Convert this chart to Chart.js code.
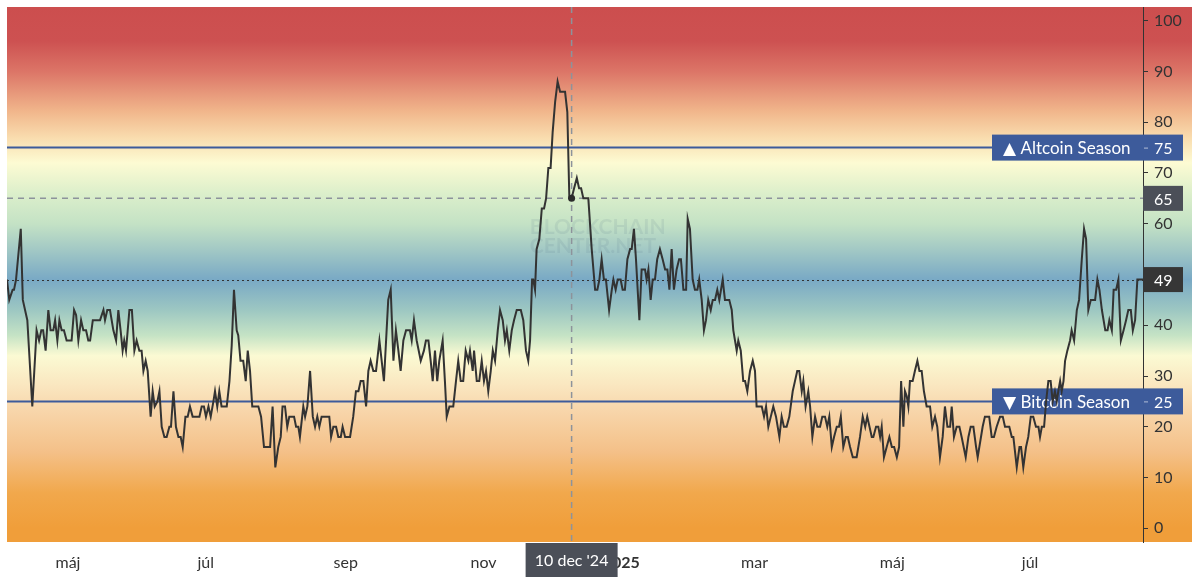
<!DOCTYPE html>
<html><head><meta charset="utf-8">
<script src="https://cdn.jsdelivr.net/npm/chart.js@4/dist/chart.umd.min.js"></script>
<style>html,body{margin:0;padding:0;background:#fff;}#wrap{width:1200px;height:582px;position:relative;}</style>
</head><body><div id="wrap"><canvas id="c" width="1200" height="582"></canvas></div>
<script>
// ---- data (days counted from START) ----
const START = '2024-04-04';
const dayOffsets = [
  0,1,2.5,3.1,4,6.1,7,9,11.2,13.1, 14.2,15.2,16,17.1,18.3,19.3,20.5,21.3,22.3,23.2,
  24.2,25.2,26.4,28.6,29.7,30.6,31.6,32.8,33.8,35, 36,36.8,38,41.2,42.7,43.4,44.4,45.6,47.1,48.3,
  49.3,50.3,51.2,51.9,52.7,54.2,55.3,56.4,57.4,58.6, 59.6,60.4,61.4,62.3,63.6,64.5,65.4,66.6,67.5,68.5,
  69.7,70.7,71.9,72.6,73.7,74.8,75.9,76.9,77.8,79, 80,81,82.2,85.2,86.2,87.2,88.1,89.2,90.2,91.4,
  92.1,93.1,94,95,97.3,98.5,99.5,100.5,101.7,102.4, 103.4,104.6,105.7,106.6,107.6,108.6,111.3,112.5,113.8,116.5,
  117.6,118.8,120.1,121.2,122,123.1,124.1,125,127.1,128, 129,
  129.7,131.2,132,133,134.2,135.4,136.4,137.4,138.3,139.3, 142.7,143.5,144.5,145.7,146.7,147.8,148.6,149.7,151.9,153.3,
  154.5,155.6,156.6,157.8,159,160,161,162.2,163.4,164.9, 165.9,166.9,168.8,169.9,171.1,172.2,173.3,174.3,175.5,176.7,
  178.4,179.2,180.2,181.4,183.2,184.6,185.5,186.6,187.6,188.5, 189.5,190.5,191.4,192.9,193.9,194.7,195.9,197.6,198.8,199.8,
  200.9,202,203.1,204.3,205,206.2,206.8,208,209.1,210.2, 211.2,212.1,213.1,214.2,215.1,216.1,217.3,218.3,219.5,220.5,
  221.3,222.4,223.5,224.5,225.7,227.5,228.6,229.8,230.8,231.6, 232.5,
  233,233.8,234.5,235.7,236.8,237.8,238.7,239.7,240.7,241.6, 242.7,243.8,244.9,247.1,248.1,249,250,251.1,252.3,253.3,
  254.2,255.2,257.4,258.9,
  260.4,261.4,262.3,263.3,264.3,265.2,266.6,267.8,268.5,269.5, 270.4,271.7,272.6,273.6,274.7,275.9,276.6,277.6,278.5,280,
  281,282.5,283.2,284,285,285.9,286.9,287.9,289.1,290.3, 291.4,292.4,293.3,294.3,295.3,296.5,297.6,298.4,299.5,300.7,
  301.4,302.4,303.6,304.6,305.7,306.5,307.6,308.6,309.5,310.5, 311.6,312.5,313.5,314.5,315.4,316.9,317.9,319.8,320.9,321.6,
  323.1,323.8,324.9,326,326.8,327.8,329,330.2,331.2,331.9, 334.2,335.2,336.1,337.1,338.2,339.3,340.5,342,343,344,
  345.2,346.4,347.9,348.9,349.9,350.8,351.9,352.6,353.6,354.8, 355.6,356.6,357.8,358.8,360,361,362.2,363.2,364.1,365.2,
  366.2,367.4,368.4,369.2,370.3,371.4,372.3,373.3,374.5,376.2, 377.7,378.9,380,380.9,382.9,
  383.6,384.8,385.8,386.6,387.3,388.3,389.5,390.7,391.8,392.8, 394,395,395.9,396.9,397.6,398.4,399.1,399.8,401,402,
  403.1,404,405,406,407.2,408.7,409.7,410.9,411.9,413.1, 414.3,415.3,416.4,417.6,418.3,419.3,420.5,421.7,422.7,424.5,
  425.7,426.7,427.9,429.1,429.8,432,433,434.9,436,437, 438.2,439.7,
  440.9,441.9,443.8,444.9,445.6,447.1,448.3,449,450,451.2, 452.2,453.3,454.4,455.6,456.7,457.4,458.2,459.2,460.1,461.1,
  462.1,463,464,464.8,465.5,466.3,467,467.8,468.5,469.5, 470.7,471.4,472.5,473.7,474.7,475.9,476.9,477.8,478.8,479.9,
  481.8,482.8,483.7,484.8,486.3,487.3,488.1,489.2,490,491.1, 492.1,493.2,494.4,495.5,496.5,497.6,498.5,499.5,500.5,503
];
const indexValues = [
  49,45,47,47,49,59,45,41,24,39, 37,39,39,35,43,39,39,41,37,41,
  39,39,37,37,43,42,37,41,39,39, 37,37,41,41,43,41,43,43,39,37,
  43,39,35,37,35,43,43,35,37,35, 35,31,33,31,22,27,24,25,27,20,
  18,18,20,20,27,20,18,18,16,22, 22,24,22,22,24,24,22,24,22,25,
  27,24,27,24,24,29,36,47,39,38, 33,33,29,35,31,24,24,22,16,16,
  24,12,16,18,24,24,20,22,22,20, 20,
  18,24,22,24,31,22,20,22,20,22, 22,18,20,20,18,18,20,18,18,22,
  27,27,29,29,24,31,33,31,31,37, 33,29,45,47,33,39,35,31,37,39,
  39,37,41,37,33,35,37,37,33,29, 35,29,33,37,29,22,24,24,29,33,
  29,29,35,33,35,31,35,29,29,33, 29,31,27,31,35,33,39,43,41,37,
  39,35,39,41,43,43,41,35,33,37, 49,
  49,47,55,57,63,63,65,71,71,78, 84,88,86,86,82,65,65,67,69,67,
  67,65,65,55,
  47,47,49,53,49,49,43,47,49,47, 49,49,47,47,53,55,55,59,53,41,
  51,51,49,51,45,49,49,53,55,53, 51,51,47,55,47,51,53,53,47,47,
  61,59,49,47,47,49,45,39,41,45, 43,45,45,47,45,49,45,45,43,39,
  35,37,35,29,29,27,31,33,31,24, 24,22,24,20,22,24,22,18,22,20,
  20,22,27,29,31,31,27,29,24,27, 24,18,22,20,20,22,22,20,22,16,
  18,20,20,22,16,18,18,16,14,14, 18,22,20,22,18,
  18,20,20,18,20,14,16,18,16,16, 14,16,29,20,27,26,24,29,29,31,
  33,31,31,27,24,24,20,22,20,14, 18,24,20,20,24,18,20,20,18,14,
  18,20,20,16,14,20,22,22,18,18, 20,22,
  22,20,20,18,18,12,16,16,12,16, 18,22,22,20,20,18,20,20,25,29,
  29,25,27,25,27,29,27,29,33,35, 37,39,37,43,45,53,59,57,43,45,
  45,49,47,43,39,39,41,39,47,47, 49,37,39,41,43,43,39,41,49,49
];
const monthTickDates = ['2024-05-01','2024-07-01','2024-09-01','2024-11-01','2025-01-01','2025-03-01','2025-05-01','2025-07-01'];
const monthTickLabels = ['máj','júl','sep','nov','2025','mar','máj','júl'];
const yTickValues = [0,10,20,30,40,50,60,70,80,90,100];
const seasonLevels = [75, 25];
const seasonLabels = ['▲ Altcoin Season', '▼ Bitcoin Season'];
const currentValue = 49;
const hoverDate = '2024-12-10';
const hoverLabel = "10 dec '24";
const watermarkLines = ['BLOCKCHAIN', 'CENTER.NET'];
// background colour scale (index value -> colour)
const bgStopValues = [102.7, 96, 90, 82, 77, 72, 66, 60, 55, 49, 43, 38, 34, 28, 24, 15, 7, 0, -2.7];
const bgStopColors = ['#cc4e4e','#cd5151','#dc7567','#f1b78c','#f9dcae','#fdfbd3','#dcefcb','#c4e2c5','#a3c9c5','#79a9c5','#9dc7c2','#c5e3c5','#fbfad3','#fae6bf','#f8d8ae','#f4c088','#f1a84c','#f09e3a','#f09e3a'];

const Y_MIN = -2.7, Y_MAX = 102.7;
const FONT = "Lato, 'DejaVu Sans', sans-serif";

function dayOf(iso){
  const p = iso.split('-').map(Number);
  const s = START.split('-').map(Number);
  return Math.round((Date.UTC(p[0],p[1]-1,p[2]) - Date.UTC(s[0],s[1]-1,s[2]))/86400000);
}
const monthTickDays = monthTickDates.map(dayOf);
const hoverDay = dayOf(hoverDate);
const hoverIdx = dayOffsets.indexOf(hoverDay);
const hoverValue = indexValues[hoverIdx];
const points = dayOffsets.map((d,i)=>({x:d, y:indexValues[i]}));

const overlay = {
  id:'overlay',
  beforeDraw(chart){
    const {ctx, chartArea:a, scales:{y}} = chart;
    const top = y.getPixelForValue(Y_MAX), bot = y.getPixelForValue(Y_MIN);
    const g = ctx.createLinearGradient(0, top, 0, bot);
    bgStopValues.forEach((v,i)=>{
      g.addColorStop(Math.min(1,Math.max(0,(Y_MAX - v)/(Y_MAX - Y_MIN))), bgStopColors[i]);
    });
    ctx.save();
    ctx.fillStyle = g;
    ctx.fillRect(a.left, a.top, y.right - a.left, a.bottom - a.top);
    ctx.restore();
  },
  beforeDatasetsDraw(chart){
    const {ctx, chartArea:a, scales:{x,y}} = chart;
    ctx.save();
    // watermark
    ctx.font = "bold 21px " + FONT;
    ctx.fillStyle = 'rgba(70,100,130,0.11)';
    ctx.textAlign = 'left'; ctx.textBaseline = 'alphabetic';
    const wx = x.getPixelForValue(231.5);
    ctx.fillText(watermarkLines[0], wx, y.getPixelForValue(57.9));
    ctx.fillText(watermarkLines[1], wx, y.getPixelForValue(54.2));
    // current value dotted line
    const cy = Math.round(y.getPixelForValue(currentValue)) + 0.5;
    ctx.strokeStyle = '#333'; ctx.lineWidth = 1; ctx.setLineDash([2,3]);
    ctx.beginPath(); ctx.moveTo(a.left, cy); ctx.lineTo(a.right, cy); ctx.stroke();
    // crosshair
    const hx = x.getPixelForValue(hoverDay), hy = y.getPixelForValue(hoverValue);
    ctx.strokeStyle = '#8d939b'; ctx.lineWidth = 1.5; ctx.setLineDash([6,5]);
    ctx.beginPath(); ctx.moveTo(a.left, hy); ctx.lineTo(a.right, hy); ctx.stroke();
    ctx.beginPath(); ctx.moveTo(hx, a.top); ctx.lineTo(hx, a.bottom + 4); ctx.stroke();
    ctx.setLineDash([]);
    // season lines and boxes
    seasonLevels.forEach((lv,i)=>{
      const ly = y.getPixelForValue(lv);
      const boxL = a.right - 151, boxR = y.left + 40;
      ctx.strokeStyle = '#3d5b9b'; ctx.lineWidth = 2;
      ctx.beginPath(); ctx.moveTo(a.left, ly); ctx.lineTo(boxL, ly); ctx.stroke();
      ctx.fillStyle = '#3d5b9b';
      ctx.fillRect(boxL, ly - 13, boxR - boxL, 26);
      ctx.fillStyle = '#ffffff';
      ctx.font = "17px " + FONT; ctx.textBaseline = 'middle'; ctx.textAlign = 'left';
      ctx.fillText(seasonLabels[i], boxL + 11, ly + 1);
      ctx.font = "16px " + FONT;
      ctx.fillText(String(lv), y.left + 11, ly + 1);
      ctx.strokeStyle = 'rgba(255,255,255,0.6)'; ctx.lineWidth = 1;
      ctx.beginPath(); ctx.moveTo(y.left + 1, ly + 0.5); ctx.lineTo(y.left + 5, ly + 0.5); ctx.stroke();
    });
    ctx.restore();
  },
  afterDatasetsDraw(chart){
    const {ctx, scales:{x,y}} = chart;
    ctx.save();
    ctx.fillStyle = '#2b2b2b';
    ctx.beginPath(); ctx.arc(x.getPixelForValue(hoverDay), y.getPixelForValue(hoverValue), 3.5, 0, Math.PI*2); ctx.fill();
    ctx.restore();
  },
  afterDraw(chart){
    const {ctx, chartArea:a, scales:{x,y}} = chart;
    ctx.save();
    ctx.font = "16px " + FONT; ctx.textBaseline = 'middle'; ctx.textAlign = 'left';
    // axis value boxes
    [[hoverValue,'#4b4f58'],[currentValue,'#363636']].forEach(([v,c])=>{
      const py = y.getPixelForValue(v);
      ctx.fillStyle = c; ctx.fillRect(y.left, py - 12.5, 40, 25);
      ctx.fillStyle = '#fff'; ctx.fillText(String(v), y.left + 11, py + 1);
    });
    // date label at crosshair
    const hx = x.getPixelForValue(hoverDay);
    ctx.fillStyle = '#4b4f58';
    ctx.fillRect(hx - 46, a.bottom + 1, 92, 34);
    ctx.fillStyle = '#fff'; ctx.textAlign = 'center';
    ctx.fillText(hoverLabel, hx, a.bottom + 19);
    ctx.restore();
  }
};

new Chart(document.getElementById('c'), {
  type:'line',
  data:{ datasets:[{
    data: points,
    borderColor:'#333333', borderWidth:2, pointRadius:0, tension:0, fill:false
  }]},
  options:{
    responsive:false, animation:false, maintainAspectRatio:false,
    layout:{padding:{left:7, top:7, right:8, bottom:0}},
    plugins:{legend:{display:false}, tooltip:{enabled:false}},
    events:[],
    scales:{
      x:{
        type:'linear', min:0, max:503,
        grid:{display:false, drawTicks:false}, border:{display:false},
        afterBuildTicks:(s)=>{ s.ticks = monthTickDays.map(v=>({value:v})); },
        afterFit:(s)=>{ s.height = 40; s.paddingLeft = 0; s.paddingRight = 0; },
        ticks:{
          autoSkip:false, maxRotation:0, padding:11, color:'#333',
          callback:(v,i)=>monthTickLabels[i],
          font:(c)=>({family:FONT, size:16, weight: monthTickLabels[c.index]==='2025' ? 'bold' : 'normal'})
        }
      },
      y:{
        type:'linear', position:'right', min:Y_MIN, max:Y_MAX,
        afterBuildTicks:(s)=>{ s.ticks = yTickValues.map(v=>({value:v})); },
        afterFit:(s)=>{ s.width = 49; s.paddingTop = 0; s.paddingBottom = 0; },
        grid:{drawOnChartArea:false, tickLength:5, color:'#333', tickWidth:1},
        border:{color:'#333', width:1},
        ticks:{padding:6, color:'#333', font:{family:FONT, size:16}}
      }
    }
  },
  plugins:[overlay]
});
</script>
</body></html>
